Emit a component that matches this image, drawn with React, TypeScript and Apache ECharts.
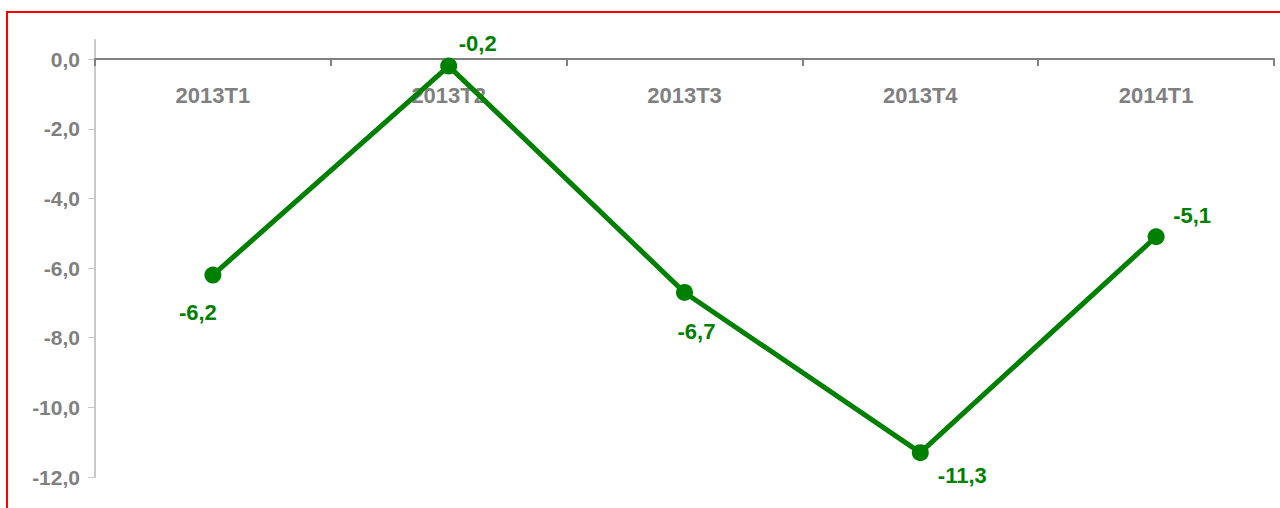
import React, { useEffect, useRef } from "react";
import * as echarts from "echarts";

const categories = ["2013T1", "2013T2", "2013T3", "2013T4", "2014T1"];
const values = [-6.2, -0.2, -6.7, -11.3, -5.1];
const yTicks = [0, -2, -4, -6, -8, -10, -12];

// label placement (style only)
const labelOffsets: [number, number][] = [
  [-15, 37],
  [29, -23],
  [12, 39],
  [42, 23],
  [36, -21],
];

const fmt = (v: number) => v.toFixed(1).replace(".", ",");

export default function App() {
  const ref = useRef<HTMLDivElement>(null);
  useEffect(() => {
    if (!ref.current) return;
    const chart = echarts.init(ref.current, undefined, { renderer: "svg" });
    chart.setOption({
      animation: false,
      backgroundColor: "#ffffff",
      textStyle: { fontFamily: "Liberation Sans, Arial, sans-serif" },
      grid: { left: 95, right: 6, top: 40, bottom: 31, containLabel: false, outerBoundsMode: "none" },
      graphic: [
        {
          type: "rect",
          shape: { x: 7, y: 12, width: 1300, height: 520 },
          style: { fill: "none", stroke: "#ff0000", lineWidth: 2 },
          silent: true,
          z: 100,
        },
      ],
      xAxis: {
        type: "category",
        data: categories,
        boundaryGap: true,
        position: "bottom",
        offset: -418,
        axisLine: { onZero: false, lineStyle: { color: "#808080", width: 2 } },
        axisTick: { show: true, length: 7, lineStyle: { color: "#808080", width: 2 } },
        axisLabel: {
          color: "#808080",
          fontWeight: "bold",
          fontSize: 22,
          margin: 25,
          fontFamily: "Liberation Sans, Arial, sans-serif",
        },
        splitLine: { show: false },
      },
      yAxis: {
        type: "value",
        min: -12,
        max: 0.55,
        axisLine: { show: true, lineStyle: { color: "#c8c8c8", width: 2 } },
        axisTick: {
          show: true,
          length: 7,
          customValues: yTicks,
          lineStyle: { color: "#c8c8c8", width: 1 },
        },
        axisLabel: {
          color: "#808080",
          fontWeight: "bold",
          fontSize: 21,
          margin: 15,
          customValues: yTicks,
          formatter: (v: number) => fmt(v),
          fontFamily: "Liberation Sans, Arial, sans-serif",
        },
        splitLine: { show: false },
      },
      series: [
        {
          type: "line",
          data: values.map((v, i) => ({
            value: v,
            label: { offset: labelOffsets[i] },
          })),
          lineStyle: { color: "#008000", width: 5 },
          itemStyle: { color: "#008000" },
          symbol: "circle",
          symbolSize: 17,
          label: {
            show: true,
            position: "inside",
            color: "#008000",
            fontWeight: "bold",
            fontSize: 22,
            fontFamily: "Liberation Sans, Arial, sans-serif",
            formatter: (p: any) => fmt(p.value),
          },
        },
      ],
    });
    return () => chart.dispose();
  }, []);
  return (
    <div
      ref={ref}
      style={{ position: "fixed", left: 0, top: 0, width: 1280, height: 508 }}
    />
  );
}
